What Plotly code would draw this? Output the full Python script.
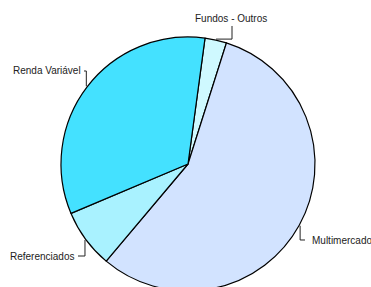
import math
import plotly.graph_objects as go

# ---- data ----
labels = ["Fundos - Outros", "Multimercado", "Referenciados", "Renda Variável"]
values = [2.75, 56.25, 7.5, 33.5]
colors = ["#CFF9FF", "#D2E3FF", "#A9F2FF", "#44E1FF"]

# ---- geometry (pixels) ----
W, H = 371, 310
CX, CY, R = 188, 164, 127
ROT = 7.7  # degrees clockwise from 12 o'clock

# label anchors (pixels) and leader style: 'v' = vertical first, 'h' = horizontal first
label_pos = {
    "Fundos - Outros": dict(x=231, y=18, xanchor="center", lx=232, ly=26, mode="h"),
    "Multimercado": dict(x=310, y=240, xanchor="left", lx=305, ly=240, mode="v"),
    "Referenciados": dict(x=76, y=256, xanchor="right", lx=78, ly=256, mode="v"),
    "Renda Variável": dict(x=83, y=71, xanchor="right", lx=84, ly=71, mode="v"),
}


def px(x):
    return x / W


def py(y):
    return (H - y) / H


fig = go.Figure(
    go.Pie(
        labels=labels,
        values=values,
        sort=False,
        direction="clockwise",
        rotation=ROT,
        marker=dict(colors=colors, line=dict(color="#000000", width=1.2)),
        textinfo="none",
        hoverinfo="label+percent",
        showlegend=False,
        domain=dict(x=[px(CX - R), px(CX + R)], y=[py(CY + R), py(CY - R)]),
    )
)

total = sum(values)
ang = ROT
annotations = []
shapes = []
for lab, v in zip(labels, values):
    span = v / total * 360
    mid = math.radians(ang + span / 2)
    ang += span
    ex = CX + (R + 1) * math.sin(mid)
    ey = CY - (R + 1) * math.cos(mid)
    p = label_pos[lab]
    if p["mode"] == "v":
        pts = [(ex, ey), (ex, p["ly"]), (p["lx"], p["ly"])]
    else:
        pts = [(ex, ey), (p["lx"], ey), (p["lx"], p["ly"])]
    path = "M " + " L ".join(f"{px(a):.5f},{py(b):.5f}" for a, b in pts)
    shapes.append(dict(type="path", xref="paper", yref="paper", path=path,
                       line=dict(color="#222222", width=1)))
    annotations.append(dict(
        text=lab, x=px(p["x"]), y=py(p["y"]), xref="paper", yref="paper",
        xanchor=p["xanchor"], yanchor="middle", showarrow=False,
        font=dict(family="Liberation Sans, Arial, sans-serif", size=10, color="#222222"),
    ))

fig.update_layout(
    width=W, height=H,
    margin=dict(l=0, r=0, t=0, b=0),
    paper_bgcolor="white", plot_bgcolor="white",
    annotations=annotations, shapes=shapes,
)

fig.write_html(
    "out.html",
    config=dict(displayModeBar=False),
    post_script="document.body.style.margin='0';document.body.style.overflow='hidden';",
)
